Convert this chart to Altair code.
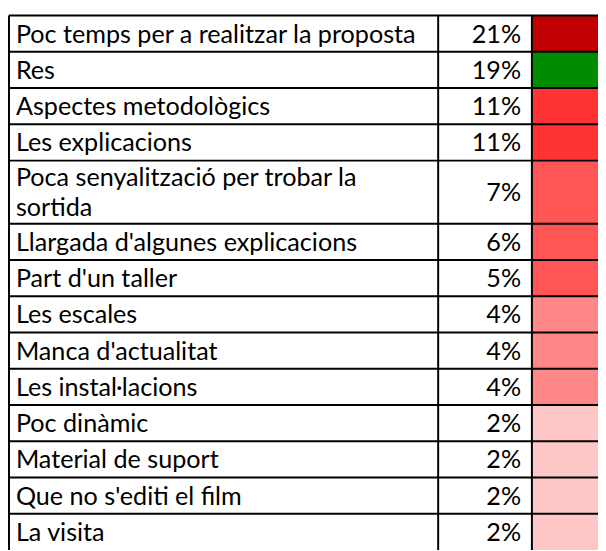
import altair as alt
import pandas as pd

# ---- data ----
labels = [
    "Poc temps per a realitzar la proposta",
    "Res",
    "Aspectes metodològics",
    "Les explicacions",
    "Poca senyalització per trobar la\nsortida",
    "Llargada d'algunes explicacions",
    "Part d'un taller",
    "Les escales",
    "Manca d'actualitat",
    "Les instal·lacions",
    "Poc dinàmic",
    "Material de suport",
    "Que no s'editi el film",
    "La visita",
]
values = [21, 19, 11, 11, 7, 6, 5, 4, 4, 4, 2, 2, 2, 2]

# conditional-format colours by value
color_domain = [21, 19, 11, 7, 6, 5, 4, 2]
color_range = ["#C00000", "#008C00", "#FF3333", "#FF5555", "#FF5555", "#FF5555", "#FF8787", "#FFC8C8"]

# ---- layout constants (pixels in chart space) ----
W, H = 598, 543
TOP = 4
ROW_H = 36.75
WRAP_H = 64
LINE_H = 30
COL_EDGES = [1, 436, 531, 640]
FONT = "Lato"
FS = 25.5

rows = []
y = TOP
for lab, v in zip(labels, values):
    n = lab.count("\n") + 1
    h = ROW_H if n == 1 else WRAP_H
    yc = y + h / 2
    rows.append({"label": lab, "value": v, "pct": f"{v}%", "y0": y, "y1": y + h,
                 "yc": yc, "ylab": yc - (n - 1) * LINE_H / 2})
    y += h
rows = pd.DataFrame(rows)
table_bottom = y

rows["cx0"] = COL_EDGES[2]
rows["cx1"] = COL_EDGES[3]
rows["hx0"] = COL_EDGES[0]
rows["hx1"] = COL_EDGES[3]
rows["lx"] = COL_EDGES[0] + 7
rows["px"] = COL_EDGES[2] - 11

vlines = pd.DataFrame({"x": COL_EDGES[:3], "y0": TOP, "y1": table_bottom})

xs = alt.Scale(domain=[0, W], nice=False, zero=False)
ys = alt.Scale(domain=[0, H], nice=False, zero=False, reverse=True)

colored = alt.Chart(rows).mark_rect().encode(
    x=alt.X("cx0:Q", scale=xs, axis=None), x2="cx1:Q",
    y=alt.Y("y0:Q", scale=ys, axis=None), y2="y1:Q",
    color=alt.Color("value:O", scale=alt.Scale(domain=color_domain, range=color_range), legend=None),
)

hrules = alt.Chart(rows).mark_rule(color="black", strokeWidth=2).encode(
    x=alt.X("hx0:Q", scale=xs, axis=None), x2="hx1:Q",
    y=alt.Y("y0:Q", scale=ys, axis=None),
)

vrules = alt.Chart(vlines).mark_rule(color="black", strokeWidth=2).encode(
    x=alt.X("x:Q", scale=xs, axis=None),
    y=alt.Y("y0:Q", scale=ys, axis=None), y2="y1:Q",
)

lab_text = alt.Chart(rows).mark_text(
    align="left", baseline="middle", font=FONT, fontSize=FS, color="black",
    lineBreak="\n", lineHeight=LINE_H, dy=1,
).encode(
    x=alt.X("lx:Q", scale=xs, axis=None),
    y=alt.Y("ylab:Q", scale=ys, axis=None),
    text="label:N",
)

pct_text = alt.Chart(rows).mark_text(
    align="right", baseline="middle", font=FONT, fontSize=FS, color="black", dy=1,
).encode(
    x=alt.X("px:Q", scale=xs, axis=None),
    y=alt.Y("yc:Q", scale=ys, axis=None),
    text="pct:N",
)

chart = alt.layer(colored, hrules, vrules, lab_text, pct_text).properties(
    width=W, height=H, padding=0, autosize=alt.AutoSizeParams(type="none"),
    background="white",
).configure_view(stroke=None)

chart.save("out.html", embed_options={"renderer": "svg", "actions": False})
